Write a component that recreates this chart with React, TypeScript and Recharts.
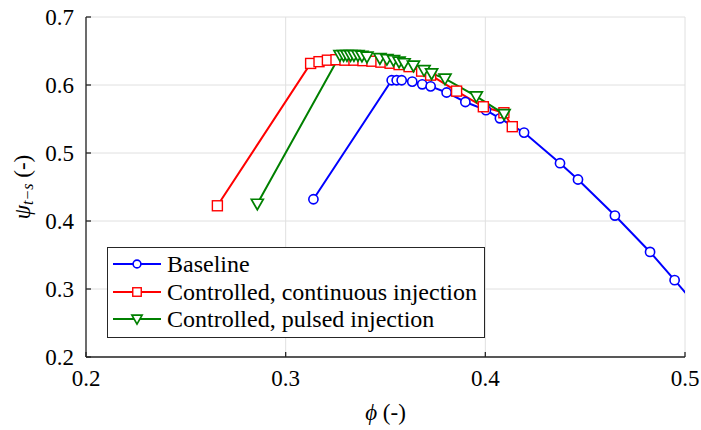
import React from 'react';
import { LineChart, Line, XAxis, YAxis, CartesianGrid, Legend, Label } from 'recharts';

const xTicks = [0.2, 0.3, 0.4, 0.5];
const yTicks = [0.2, 0.3, 0.4, 0.5, 0.6, 0.7];

const baselinePhi = [0.3139, 0.3531, 0.3556, 0.3581, 0.3634, 0.3684, 0.3726, 0.3806, 0.39, 0.4003, 0.4073, 0.4194, 0.4374, 0.4464, 0.4649, 0.4825, 0.4948, 0.506];
const baselinePsi = [0.432, 0.607, 0.607, 0.607, 0.605, 0.601, 0.598, 0.589, 0.575, 0.563, 0.551, 0.53, 0.485, 0.461, 0.408, 0.3545, 0.313, 0.275];

const continuousPhi = [0.2658, 0.3125, 0.3167, 0.3209, 0.3252, 0.3297, 0.3342, 0.3387, 0.3432, 0.3477, 0.3523, 0.3568, 0.3618, 0.3681, 0.3726, 0.3856, 0.399, 0.4093, 0.4135];
const continuousPsi = [0.4224, 0.6317, 0.6343, 0.6365, 0.6372, 0.6365, 0.6365, 0.6358, 0.635, 0.6336, 0.632, 0.63, 0.627, 0.6204, 0.6145, 0.591, 0.568, 0.5592, 0.5387];

const pulsedPhi = [0.2858, 0.3272, 0.329, 0.3307, 0.3325, 0.3342, 0.3362, 0.3382, 0.3407, 0.3472, 0.3507, 0.354, 0.3568, 0.3593, 0.364, 0.3693, 0.3731, 0.3798, 0.3955, 0.4094];
const pulsedPsi = [0.4254, 0.6438, 0.6438, 0.6438, 0.6438, 0.6438, 0.6438, 0.643, 0.6416, 0.6394, 0.638, 0.6365, 0.6343, 0.632, 0.6284, 0.6219, 0.617, 0.6094, 0.5833, 0.5573];

const zip = (xs: number[], ys: number[]) => xs.map((phi, i) => ({ phi, psi: ys[i] }));

const FONT = "'Times New Roman', 'Liberation Serif', Tinos, 'DejaVu Serif', 'Noto Serif', serif";
const AXIS = '#262626';

const series = [
  { key: 'baseline', name: 'Baseline', color: '#0000ff', shape: 'circle', data: zip(baselinePhi, baselinePsi) },
  { key: 'continuous', name: 'Controlled, continuous injection', color: '#ff0000', shape: 'square', data: zip(continuousPhi, continuousPsi) },
  { key: 'pulsed', name: 'Controlled, pulsed injection', color: '#008000', shape: 'triangle', data: zip(pulsedPhi, pulsedPsi) },
];

function Marker({ cx, cy, shape, color, size = 1 }: any) {
  if (cx == null || cy == null) return null;
  if (shape === 'circle') {
    return <circle cx={cx} cy={cy} r={4.6 * size} fill="#fff" stroke={color} strokeWidth={1.6} />;
  }
  if (shape === 'square') {
    const h = 5 * size;
    return <rect x={cx - h} y={cy - h} width={2 * h} height={2 * h} fill="#fff" stroke={color} strokeWidth={1.4} />;
  }
  const w = 6 * size;
  return (
    <polygon
      points={`${cx - w},${cy - 4.5 * size} ${cx + w},${cy - 4.5 * size} ${cx},${cy + 6 * size}`}
      fill="#fff"
      stroke={color}
      strokeWidth={1.7}
      strokeLinejoin="miter"
    />
  );
}

const renderLegend = () => (
  <div
    style={{
      border: `1px solid ${AXIS}`,
      background: '#fff',
      boxSizing: 'border-box',
      width: 378,
      padding: '2px 0 4px 5px',
      fontFamily: FONT,
      fontSize: 24,
      color: '#000',
    }}
  >
    {series.map((s) => (
      <div key={s.key} style={{ display: 'flex', alignItems: 'center', height: 27.8 }}>
        <svg width={48} height={14} style={{ flex: 'none' }}>
          <line x1={0} y1={7} x2={48} y2={7} stroke={s.color} strokeWidth={2} />
          <Marker cx={24} cy={7} shape={s.shape} color={s.color} size={0.85} />
        </svg>
        <span style={{ marginLeft: 6, lineHeight: 1, whiteSpace: 'nowrap' }}>{s.name}</span>
      </div>
    ))}
  </div>
);

const YLabel = ({ viewBox }: any) => {
  const cx = viewBox.x + 22;
  const cy = viewBox.y + viewBox.height / 2;
  return (
    <text
      x={cx}
      y={cy}
      transform={`rotate(-90, ${cx}, ${cy})`}
      textAnchor="middle"
      dominantBaseline="central"
      fontFamily={FONT}
      fontSize={23}
      fill="#000"
    >
      <tspan fontStyle="italic">ψ</tspan>
      <tspan fontStyle="italic" fontSize={16} dy={5}>t−s</tspan>
      <tspan dy={-5}> (-)</tspan>
    </text>
  );
};

const XLabel = ({ viewBox }: any) => (
  <text
    x={viewBox.x + viewBox.width / 2}
    y={viewBox.y + 63}
    textAnchor="middle"
    fontFamily={FONT}
    fontSize={23}
    fill="#000"
  >
    <tspan fontStyle="italic">ϕ</tspan>
    <tspan> (-)</tspan>
  </text>
);

const tickStyle = { fill: '#000', fontSize: 23, fontFamily: FONT };

export default function App() {
  return (
    <div style={{ width: 701, height: 430, background: '#fff', fontFamily: FONT }}>
      <style>{'body{margin:0}'}</style>
      <LineChart width={701} height={430} margin={{ top: 17, right: 16, bottom: 43, left: 0 }}>
        <CartesianGrid stroke="#e0e0e0" strokeWidth={1} />
        <XAxis
          type="number"
          dataKey="phi"
          domain={[0.2, 0.5]}
          ticks={xTicks}
          allowDataOverflow
          height={30}
          tickSize={-5}
          tickMargin={18}
          tick={tickStyle}
          tickFormatter={(v: number) => v.toFixed(1)}
          axisLine={{ stroke: AXIS, strokeWidth: 1.3 }}
          tickLine={{ stroke: AXIS, strokeWidth: 1.3 }}
        >
          <Label content={<XLabel />} />
        </XAxis>
        <XAxis
          xAxisId="top"
          orientation="top"
          type="number"
          dataKey="phi"
          domain={[0.2, 0.5]}
          ticks={xTicks}
          allowDataOverflow
          height={0}
          tickSize={-5}
          tick={false}
          axisLine={{ stroke: AXIS, strokeWidth: 1.3 }}
          tickLine={{ stroke: AXIS, strokeWidth: 1.3 }}
        />
        <YAxis
          type="number"
          dataKey="psi"
          domain={[0.2, 0.7]}
          ticks={yTicks}
          allowDataOverflow
          width={86}
          tickSize={-5}
          tickMargin={17}
          tick={tickStyle}
          tickFormatter={(v: number) => v.toFixed(1)}
          axisLine={{ stroke: AXIS, strokeWidth: 1.3 }}
          tickLine={{ stroke: AXIS, strokeWidth: 1.3 }}
        >
          <Label content={<YLabel />} />
        </YAxis>
        <YAxis
          yAxisId="right"
          orientation="right"
          type="number"
          domain={[0.2, 0.7]}
          ticks={yTicks}
          allowDataOverflow
          width={0}
          tickSize={-5}
          tick={false}
          axisLine={{ stroke: AXIS, strokeWidth: 1.3 }}
          tickLine={{ stroke: AXIS, strokeWidth: 1.3 }}
        />
        <Legend
          layout="vertical"
          align="center"
          verticalAlign="middle"
          content={renderLegend}
          wrapperStyle={{ left: 107, top: 247, width: 378 }}
        />
        {series.map((s) => (
          <Line
            key={s.key}
            data={s.data}
            dataKey="psi"
            name={s.name}
            type="linear"
            stroke={s.color}
            strokeWidth={2}
            isAnimationActive={false}
            dot={(p: any) => (
              <Marker key={`${s.key}-${p.index}`} cx={p.cx} cy={p.cy} shape={s.shape} color={s.color} />
            )}
            activeDot={false}
          />
        ))}
      </LineChart>
    </div>
  );
}
